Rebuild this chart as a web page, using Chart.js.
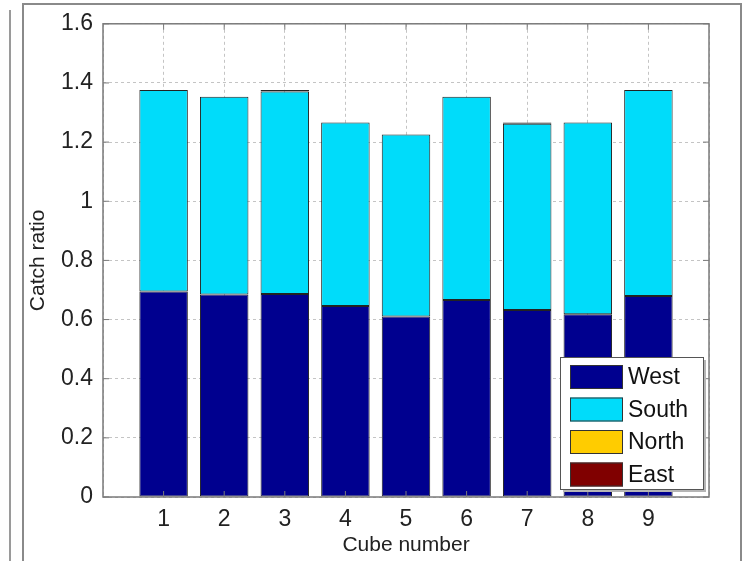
<!DOCTYPE html>
<html>
<head>
<meta charset="utf-8">
<script src="https://cdn.jsdelivr.net/npm/chart.js@4.4.1/dist/chart.umd.min.js"></script>
<style>
  html, body { margin: 0; padding: 0; background: #fff; }
  body { width: 743px; height: 561px; position: relative; overflow: hidden; }
  #frame { position: absolute; left: 22px; top: 3px; width: 716px; height: 600px; border: 2px solid #8a8a8a; }
  #neighbor { position: absolute; left: -20px; top: 10px; width: 29px; height: 600px; border-right: 2px solid #9a9a9a; }
  #wrap { position: absolute; left: 0; top: 0; width: 743px; height: 561px; }
</style>
</head>
<body>
<div id="neighbor"></div>
<div id="frame"></div>
<div id="wrap"><canvas id="chart" width="743" height="561"></canvas></div>
<script>
const cubes = [1, 2, 3, 4, 5, 6, 7, 8, 9]
const west = [0.695, 0.685, 0.686, 0.646, 0.610, 0.666, 0.632, 0.618, 0.680]
const south = [0.681, 0.668, 0.685, 0.620, 0.616, 0.687, 0.630, 0.648, 0.696]
const north = [0, 0, 0, 0, 0, 0, 0, 0, 0]
const east = [0, 0, 0.005, 0, 0, 0, 0.004, 0, 0]
const yTicks = [0, 0.2, 0.4, 0.6, 0.8, 1, 1.2, 1.4, 1.6]

const toPoints = (vals) => cubes.map((c, i) => ({ x: c, y: vals[i] }))

// boxed axes + inner tick marks like matlab
const boxPlugin = {
  id: 'box',
  afterDraw(chart) {
    const { ctx, chartArea: a, scales } = chart
    ctx.save()
    ctx.strokeStyle = '#7a7a7a'
    ctx.lineWidth = 1.5
    ctx.strokeRect(a.left, a.top, a.right - a.left, a.bottom - a.top)
    ctx.lineWidth = 1
    yTicks.forEach((v) => {
      const y = scales.y.getPixelForValue(v)
      ctx.beginPath()
      ctx.moveTo(a.left, y); ctx.lineTo(a.left + 6, y)
      ctx.moveTo(a.right, y); ctx.lineTo(a.right - 6, y)
      ctx.stroke()
    })
    cubes.forEach((c) => {
      const x = scales.x.getPixelForValue(c)
      ctx.beginPath()
      ctx.moveTo(x, a.bottom); ctx.lineTo(x, a.bottom - 6)
      ctx.moveTo(x, a.top); ctx.lineTo(x, a.top + 6)
      ctx.stroke()
    })
    ctx.restore()
  },
}

// legend inside the axes, lower right
const legendPlugin = {
  id: 'insideLegend',
  afterDraw(chart) {
    const { ctx, chartArea: a } = chart
    const sets = chart.data.datasets
    const w = 143, h = 132
    const x0 = a.right - 149, y0 = a.bottom - 140
    ctx.save()
    ctx.fillStyle = '#b5b5b5'
    ctx.fillRect(x0 + 3, y0 + 3, w, h)
    ctx.fillStyle = '#fff'
    ctx.fillRect(x0, y0, w, h)
    ctx.strokeStyle = '#555'
    ctx.lineWidth = 1
    ctx.strokeRect(x0 + 0.5, y0 + 0.5, w, h)
    ctx.font = '23px "Liberation Sans", Arial, sans-serif'
    ctx.textBaseline = 'middle'
    sets.forEach((ds, i) => {
      const cy = y0 + 20 + i * 32.5
      ctx.fillStyle = ds.backgroundColor
      ctx.fillRect(x0 + 10, cy - 12, 53, 24)
      ctx.strokeStyle = '#333'
      ctx.strokeRect(x0 + 10.5, cy - 11.5, 52, 23)
      ctx.fillStyle = '#111'
      ctx.fillText(ds.label, x0 + 68, cy + 1)
    })
    ctx.restore()
  },
}

const font = { family: '"Liberation Sans", Arial, sans-serif' }

new Chart(document.getElementById('chart'), {
  type: 'bar',
  data: {
    datasets: [
      { label: 'West', data: toPoints(west), backgroundColor: '#00008f' },
      { label: 'South', data: toPoints(south), backgroundColor: '#00dcfa' },
      { label: 'North', data: toPoints(north), backgroundColor: '#ffcc00' },
      { label: 'East', data: toPoints(east), backgroundColor: '#800000' },
    ],
  },
  options: {
    responsive: false,
    animation: false,
    layout: { padding: { left: 0, top: 18, right: 34, bottom: 0 } },
    datasets: {
      bar: {
        borderColor: '#222',
        borderWidth: 1,
        barPercentage: 0.8,
        categoryPercentage: 1,
        borderSkipped: false,
      },
    },
    plugins: {
      legend: { display: false },
      tooltip: { enabled: false },
    },
    scales: {
      x: {
        type: 'linear',
        stacked: true,
        offset: false,
        min: 0,
        max: 10,
        afterBuildTicks: (s) => { s.ticks = [0, ...cubes, 10].map((v) => ({ value: v })) },
        afterFit: (s) => { s.height = 64 },
        ticks: {
          padding: 9,
          color: '#222',
          font: { ...font, size: 23 },
          callback: (v) => (cubes.includes(v) ? String(v) : ''),
        },
        grid: { color: '#c4c4c4', drawTicks: false, lineWidth: 1, offset: false },
        border: { display: false, dash: [3, 3] },
        title: {
          display: true,
          text: 'Cube number',
          color: '#222',
          font: { ...font, size: 21 },
          padding: { top: 0, bottom: 3 },
        },
      },
      y: {
        stacked: true,
        min: 0,
        max: 1.6,
        afterBuildTicks: (s) => { s.ticks = yTicks.map((v) => ({ value: v })) },
        afterFit: (s) => { s.width = 103 },
        ticks: {
          padding: 10,
          color: '#222',
          font: { ...font, size: 23 },
          callback: (v) => String(Math.round(v * 10) / 10),
        },
        grid: { color: '#c4c4c4', drawTicks: false, lineWidth: 1 },
        border: { display: false, dash: [3, 3] },
        title: {
          display: true,
          text: 'Catch ratio',
          color: '#222',
          font: { ...font, size: 21 },
          padding: { top: 26, bottom: 0 },
        },
      },
    },
  },
  plugins: [boxPlugin, legendPlugin],
})
</script>
</body>
</html>
